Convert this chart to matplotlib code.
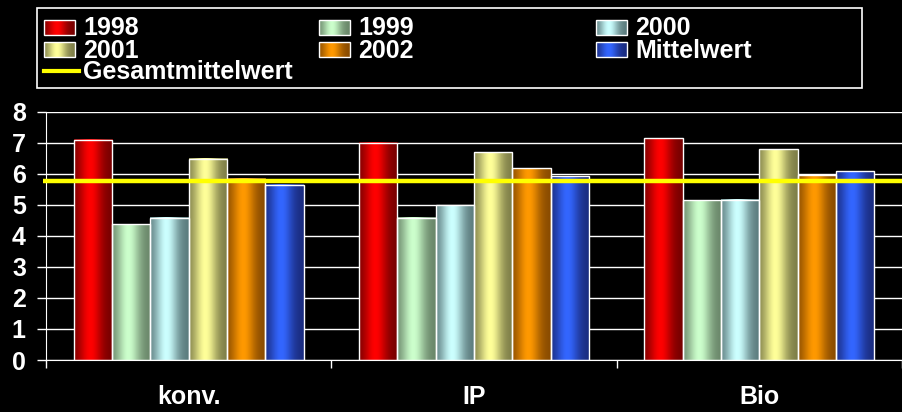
import matplotlib
matplotlib.use("Agg")
import matplotlib.pyplot as plt
import numpy as np
from matplotlib.patches import Rectangle
from matplotlib.colors import to_rgb

categories = ["konv.", "IP", "Bio"]
series = ["1998", "1999", "2000", "2001", "2002", "Mittelwert"]
values = {
    "1998":       [7.10, 7.00, 7.15],
    "1999":       [4.37, 4.58, 5.14],
    "2000":       [4.58, 4.99, 5.16],
    "2001":       [6.48, 6.69, 6.79],
    "2002":       [5.84, 6.17, 5.96],
    "Mittelwert": [5.65, 5.92, 6.08],
}
gesamtmittelwert = 5.78
total_label = "Gesamtmittelwert"
center_colors = ["#FF0000", "#CCFFCC", "#CCFFFF", "#FFFF99", "#FF9900", "#3366FF"]
edge_colors = ["#780000", "#6A876A", "#5C7C7E", "#7E7E48", "#8A4C00", "#1A2C80"]

plt.rcParams['font.family'] = ['Liberation Sans', 'DejaVu Sans']
plt.rcParams['font.weight'] = 'bold'

W, H = 902, 412
fig = plt.figure(figsize=(W / 100, H / 100), dpi=100, facecolor='black')
ax = fig.add_axes([46 / W, 52 / H, (W - 46) / W, 248.3 / H])
ax.set_facecolor('black')

t = np.linspace(0, 1, 64)
g = np.exp(-((t - 0.42) / 0.3) ** 2)
g = (g - g.min()) / (g.max() - g.min())


def gradient(i):
    c0 = np.array(to_rgb(edge_colors[i]))
    c1 = np.array(to_rgb(center_colors[i]))
    return (c0[None, :] + (c1 - c0)[None, :] * g[:, None])[None, :, :]


bw = 0.1345
x = np.arange(len(categories)) + 0.5
for i, s in enumerate(series):
    off = (i - 2.5) * bw
    bars = ax.bar(x + off, values[s], bw, facecolor='none', edgecolor='white',
                  linewidth=1.0, zorder=3)
    img = gradient(i)
    for b in bars:
        bx, bwid, bh = b.get_x(), b.get_width(), b.get_height()
        ax.imshow(img, extent=[bx, bx + bwid, 0, bh], aspect='auto',
                  interpolation='bilinear', zorder=2)

xmax = (W - 46) / 288
ax.plot([-0.01, xmax + 0.05], [gesamtmittelwert, gesamtmittelwert], color='#FFFF00',
        linewidth=3.2, zorder=4, clip_on=False, solid_capstyle='butt')

ax.set_xlim(0, xmax)
ax.set_ylim(0, 8)
ax.set_yticks(range(0, 9))
ax.yaxis.grid(True, color='white', linewidth=1.0, zorder=1)
ax.set_axisbelow(True)
ax.tick_params(axis='y', colors='white', labelcolor='white', labelsize=18,
               length=6.5, width=1, direction='out', pad=8)
ax.set_xticks([0, 1, 2, 3])
ax.set_xticklabels([])
ax.set_xticks(x, minor=True)
ax.set_xticklabels(categories, minor=True)
ax.tick_params(axis='x', which='major', colors='white', length=6, width=1)
ax.tick_params(axis='x', which='minor', length=0, pad=18, labelsize=18,
               labelcolor='white')
for lab in ax.get_yticklabels() + ax.get_xticklabels(minor=True):
    lab.set_fontweight('bold')
for sp in ['top', 'right']:
    ax.spines[sp].set_visible(False)
ax.spines['left'].set_color('white')
ax.spines['bottom'].set_color('white')

# legend drawn in a pixel-coordinate overlay
lx = fig.add_axes([0, 0, 1, 1], facecolor='none')
lx.set_xlim(0, W)
lx.set_ylim(H, 0)
lx.axis('off')
lx.add_patch(Rectangle((36.5, 8), 862 - 36.5, 80, facecolor='black',
                       edgecolor='white', linewidth=1.2, zorder=1))
col_x = [44, 319, 596]
row_y = [27, 49.5]
for i, s in enumerate(series):
    r, c = divmod(i, 3)
    px, py = col_x[c], row_y[r]
    lx.imshow(gradient(i), extent=[px, px + 31, py + 7.5, py - 7.5],
              aspect='auto', interpolation='bilinear', zorder=2)
    lx.add_patch(Rectangle((px, py - 7.5), 31, 15, facecolor='none',
                           edgecolor='white', linewidth=1, zorder=3))
    lx.text(px + 39, py + 1, s, color='white', fontsize=18, fontweight='bold',
            va='center', ha='left', zorder=3)
lx.plot([44, 79], [71, 71], color='#FFFF00', linewidth=3, zorder=3)
lx.text(83, 72, total_label, color='white', fontsize=18, fontweight='bold',
        va='center', ha='left', zorder=3)
lx.set_xlim(0, W)
lx.set_ylim(H, 0)

fig.savefig('out.png', dpi=100, facecolor='black')
